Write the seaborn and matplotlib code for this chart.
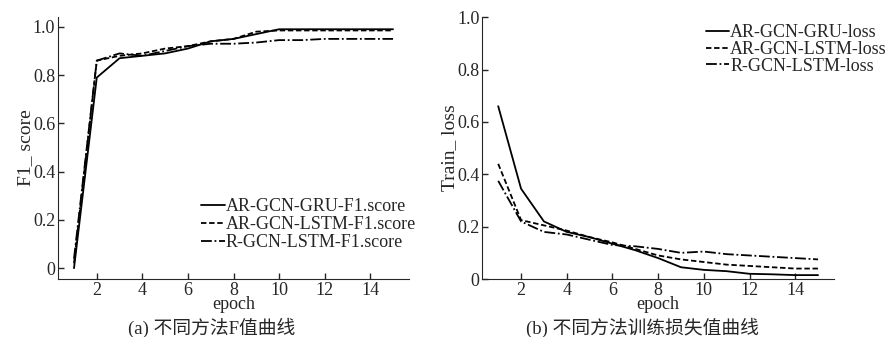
import matplotlib.pyplot as plt
import seaborn as sns
import pandas as pd

epochs = list(range(1, 16))

f1_names = ["AR-GCN-GRU-F1.score", "AR-GCN-LSTM-F1.score", "R-GCN-LSTM-F1.score"]
f1_gru = [0.0, 0.79, 0.87, 0.88, 0.89, 0.91, 0.94, 0.95, 0.97, 0.99, 0.99, 0.99, 0.99, 0.99, 0.99]
f1_lstm = [0.02, 0.86, 0.88, 0.89, 0.91, 0.92, 0.94, 0.95, 0.98, 0.985, 0.985, 0.985, 0.985, 0.985, 0.985]
f1_rgcn = [0.04, 0.86, 0.89, 0.88, 0.90, 0.92, 0.93, 0.93, 0.935, 0.945, 0.945, 0.95, 0.95, 0.95, 0.95]

loss_names = ["AR-GCN-GRU-loss", "AR-GCN-LSTM-loss", "R-GCN-LSTM-loss"]
loss_gru = [0.66, 0.345, 0.22, 0.18, 0.16, 0.135, 0.11, 0.08, 0.045, 0.035, 0.03, 0.02, 0.018, 0.015, 0.015]
loss_lstm = [0.44, 0.225, 0.205, 0.185, 0.16, 0.14, 0.115, 0.09, 0.075, 0.065, 0.055, 0.05, 0.045, 0.04, 0.04]
loss_rgcn = [0.375, 0.22, 0.18, 0.17, 0.15, 0.13, 0.125, 0.115, 0.10, 0.105, 0.095, 0.09, 0.085, 0.08, 0.075]


def long_frame(names, series):
    rows = []
    for name, vals in zip(names, series):
        for e, v in zip(epochs, vals):
            rows.append({"epoch": e, "value": v, "method": name})
    return pd.DataFrame(rows)


f1_df = long_frame(f1_names, [f1_gru, f1_lstm, f1_rgcn])
loss_df = long_frame(loss_names, [loss_gru, loss_lstm, loss_rgcn])

sns.set_style("ticks")
plt.rcParams["font.family"] = ["Liberation Serif", "Noto Sans CJK SC"]
plt.rcParams["xtick.direction"] = "in"
plt.rcParams["ytick.direction"] = "in"

fig = plt.figure(figsize=(8.93, 3.37), dpi=100)
ax1 = fig.add_axes([0.065, 0.172, 0.393, 0.777])
ax2 = fig.add_axes([0.540, 0.172, 0.394, 0.777])

dash_styles = ["", (3, 1.5), (6, 1.5, 1, 1.5)]


def draw(ax, df, names, ylim, ylabel, loc, anchor, spacing):
    sns.lineplot(data=df, x="epoch", y="value", hue="method", style="method",
                 hue_order=names, style_order=names,
                 palette=["black"] * 3, dashes=dash_styles, linewidth=1.3, ax=ax)
    ax.set_xlim(0.3, 15.7)
    ax.set_ylim(*ylim)
    ax.set_xticks([2, 4, 6, 8, 10, 12, 14])
    ax.set_yticks([0, 0.2, 0.4, 0.6, 0.8, 1.0])
    ax.set_yticklabels(["0", "0.2", "0.4", "0.6", "0.8", "1.0"])
    ax.tick_params(labelsize=13, length=4, width=1, pad=2)
    ax.set_xlabel("epoch", fontsize=13, labelpad=-2)
    ax.set_ylabel(ylabel, fontsize=14, labelpad=-1)
    sns.despine(ax=ax)
    ax.legend(loc=loc, bbox_to_anchor=anchor, frameon=False, fontsize=13,
              handlelength=1.3, handletextpad=0.05, labelspacing=spacing, borderaxespad=0)


draw(ax1, f1_df, f1_names, (-0.045, 1.04), "F1_ score", "lower right", (1.04, 0.08), 0.05)
draw(ax2, loss_df, loss_names, (0, 1.0), "Train_ loss", "upper right", (1.17, 1.0), -0.02)

fig.text(0.237, 0.028, "(a) 不同方法F值曲线", ha="center", va="center", fontsize=13.5)
fig.text(0.719, 0.028, "(b) 不同方法训练损失值曲线", ha="center", va="center", fontsize=13.5)

plt.savefig("out.png", dpi=100)
